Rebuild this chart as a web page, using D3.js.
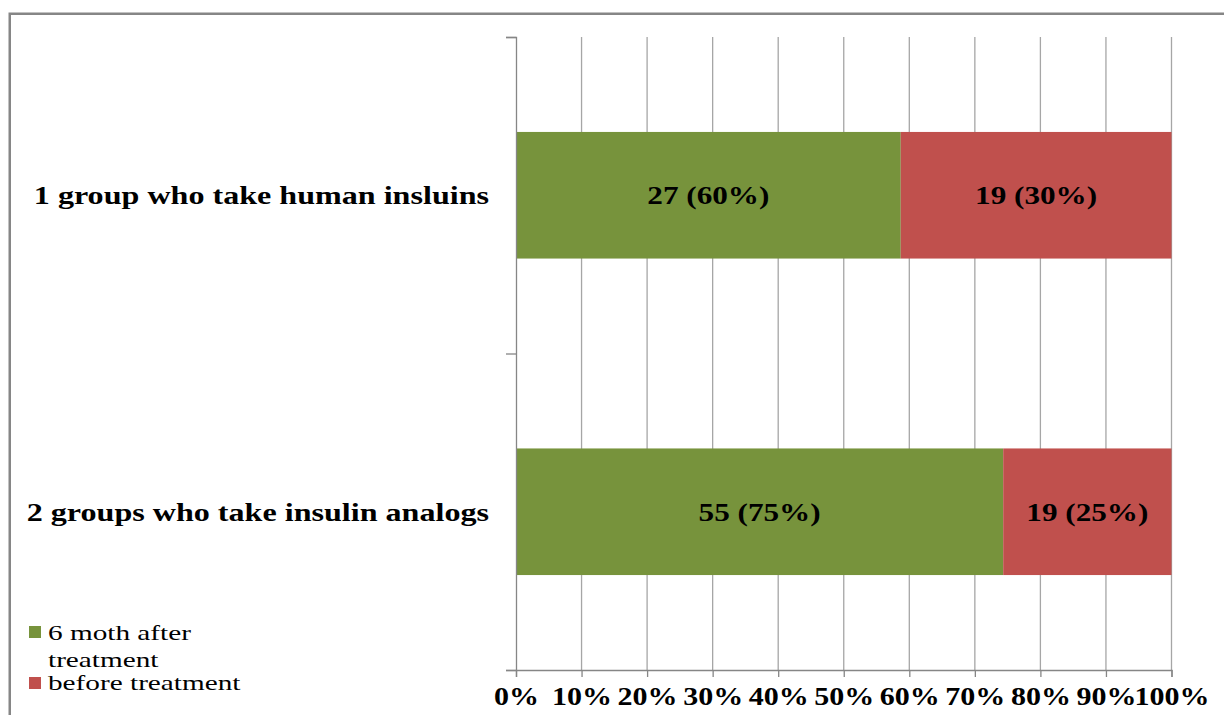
<!DOCTYPE html>
<html>
<head>
<meta charset="utf-8">
<script src="https://cdn.jsdelivr.net/npm/d3@7/dist/d3.min.js"></script>
<style>
  html, body { margin: 0; padding: 0; background: #fff; }
  svg { display: block; }
  text { font-family: "Liberation Serif", "Times New Roman", serif; }
</style>
</head>
<body>
<svg id="chart" width="1224" height="715"></svg>
<script>
// ---- data ----
const categories = ["1 group who take human insluins", "2 groups who take insulin analogs"];
const afterValues = [27, 55];
const beforeValues = [19, 19];
const afterLabels = ["27 (60%)", "55 (75%)"];
const beforeLabels = ["19 (30%)", "19 (25%)"];
const seriesNames = ["6 moth after treatment", "before treatment"];
const seriesColors = ["#77933C", "#C0504D"];
const xTicks = [0, 0.1, 0.2, 0.3, 0.4, 0.5, 0.6, 0.7, 0.8, 0.9, 1.0];

(function () {
// ---- layout ----
const svg = d3.select("#chart");
const plotLeft = 516, plotRight = 1171.5, plotTop = 37, plotBottom = 670;
const stretch = 1.2;     // reference text is horizontally stretched

// outer frame
svg.append("rect")
  .attr("x", 9.75).attr("y", 13.75)
  .attr("width", 1300).attr("height", 800)
  .attr("fill", "none").attr("stroke", "#868686").attr("stroke-width", 2.5);

const x = d3.scaleLinear().domain([0, 1]).range([plotLeft, plotRight]);
const y = d3.scaleBand().domain(categories).range([plotTop, plotBottom])
  .paddingInner(0.6).paddingOuter(0.3);

// gridlines
svg.append("g").selectAll("line").data(xTicks.slice(1)).join("line")
  .attr("x1", d => x(d)).attr("x2", d => x(d))
  .attr("y1", plotTop).attr("y2", plotBottom)
  .attr("stroke", "#A6A6A6").attr("stroke-width", 1.3);

// stacked data (100%)
const rows = categories.map((c, i) => {
  const total = afterValues[i] + beforeValues[i];
  return { cat: c, after: afterValues[i] / total, before: beforeValues[i] / total,
           la: afterLabels[i], lb: beforeLabels[i] };
});
const stack = d3.stack().keys(["after", "before"])(rows);

const gBars = svg.append("g");
stack.forEach((layer, si) => {
  gBars.append("g").selectAll("rect").data(layer).join("rect")
    .attr("x", d => x(d[0]))
    .attr("width", d => x(d[1]) - x(d[0]))
    .attr("y", d => y(d.data.cat))
    .attr("height", y.bandwidth())
    .attr("fill", seriesColors[si]);
  gBars.append("g").selectAll("text").data(layer).join("text")
    .attr("transform", d => `translate(${(x(d[0]) + x(d[1])) / 2},${y(d.data.cat) + y.bandwidth() / 2}) scale(${stretch},1)`)
    .attr("dy", "0.35em")
    .attr("text-anchor", "middle")
    .attr("font-size", 26).attr("font-weight", "bold").attr("fill", "#000")
    .text(d => si === 0 ? d.data.la : d.data.lb);
});

// y axis (ticks at band boundaries)
const yLin = d3.scaleLinear().domain([0, categories.length]).range([plotTop, plotBottom]);
const yAxis = svg.append("g").attr("transform", `translate(${plotLeft},0)`)
  .call(d3.axisLeft(yLin).tickValues(d3.range(categories.length + 1)).tickSize(10).tickFormat(""));
yAxis.select(".domain").attr("stroke", "#868686").attr("stroke-width", 1.3);
yAxis.selectAll(".tick line").attr("stroke", "#868686").attr("stroke-width", 1.3);

// category labels
svg.append("g").selectAll("text").data(categories).join("text")
  .attr("transform", d => `translate(489,${y(d) + y.bandwidth() / 2}) scale(1.235,1)`)
  .attr("dy", "0.35em")
  .attr("text-anchor", "end")
  .attr("font-size", 26).attr("font-weight", "bold").attr("fill", "#000")
  .text(d => d);

// x axis
const xAxis = svg.append("g").attr("transform", `translate(0,${plotBottom})`)
  .call(d3.axisBottom(x).tickValues(xTicks).tickFormat(d3.format(".0%")).tickSize(7).tickPadding(10));
xAxis.select(".domain").attr("stroke", "#868686").attr("stroke-width", 1.3);
xAxis.selectAll(".tick line").attr("stroke", "#868686").attr("stroke-width", 1.3);
xAxis.selectAll(".tick text")
  .attr("font-family", '"Liberation Serif", "Times New Roman", serif')
  .attr("font-size", 25).attr("font-weight", "bold").attr("fill", "#000")
  .attr("transform", "scale(1.2,1)");

// legend
const legend = svg.append("g");
const legendLines = [["6 moth after", "treatment"], ["before treatment"]];
const legendRectY = [626, 677];
const legendTextY = [[640, 667], [690]];
seriesNames.forEach((name, i) => {
  legend.append("rect")
    .attr("x", 29).attr("y", legendRectY[i])
    .attr("width", 12).attr("height", 12)
    .attr("fill", seriesColors[i]);
  legendLines[i].forEach((ln, j) => {
    legend.append("text")
      .attr("transform", `translate(48,${legendTextY[i][j]}) scale(1.33,1)`)
      .attr("font-size", 22).attr("fill", "#000")
      .text(ln);
  });
});
})();
</script>
</body>
</html>
